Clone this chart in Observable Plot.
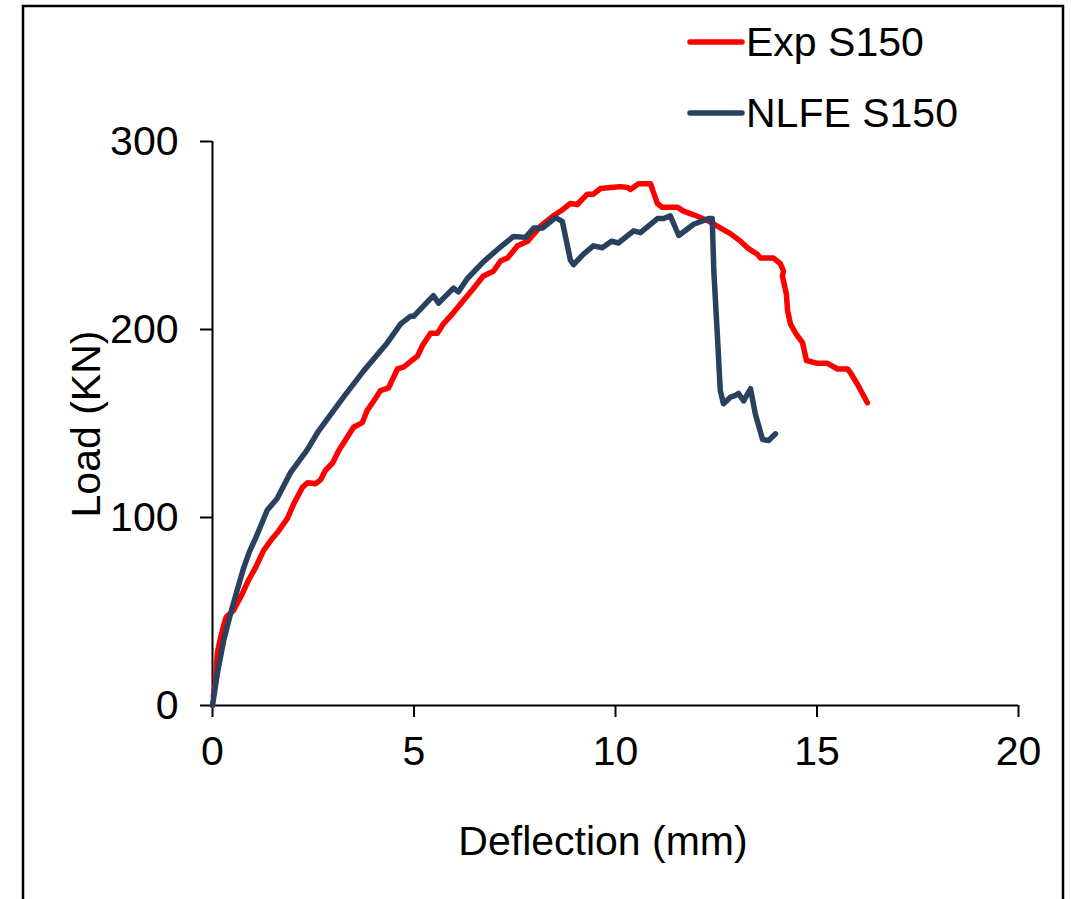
<!DOCTYPE html>
<html><head><meta charset="utf-8">
<script src="https://cdn.jsdelivr.net/npm/d3@7"></script>
<script src="https://cdn.jsdelivr.net/npm/@observablehq/plot@0.6"></script>
<style>body{margin:0;background:#fff;} #chart{width:1071px;height:899px;}</style>
</head><body><div id="chart"></div>
<script>
// Deflection (mm) / Load (KN)
const expDefl = [0.02,0.07,0.12,0.2,0.27,0.34,0.52,0.74,0.89,1.07,1.27,1.49,1.61,1.86,2.01,2.23,2.36,2.56,2.68,2.8,2.98,3.13,3.5,3.72,3.84,4.0,4.17,4.37,4.59,4.74,5.09,5.21,5.41,5.58,5.73,5.98,6.48,6.72,6.97,7.15,7.32,7.57,7.82,8.14,8.46,8.64,8.88,9.05,9.3,9.45,9.63,9.88,10.12,10.3,10.37,10.57,10.87,11.04,11.16,11.54,11.69,11.94,12.28,12.6,12.85,13.1,13.3,13.52,13.6,13.92,14.09,14.17,14.14,14.24,14.27,14.34,14.47,14.64,14.74,15.01,15.26,15.51,15.76,15.83,16.0,16.25];
const expLoad = [5,12,28,36,42,47,50.5,59.5,66.5,73.5,82.5,89,92,99.5,107,116,118.5,118,120,125,129,135.5,148,150.5,157,162,167.5,169,179,180,186,191.5,198,198,203,209,222,228.5,231,236.5,238,244.5,247,255,260.5,263,267,266.5,272,272,275,275.5,276,275.5,274.5,277.5,277.5,267,265,265,263,261,258,254,251,247,243,240,238,238,235,231,228.5,219,210,203,198,193,183.5,182,182,179,179,177,171,161];

const feDefl = [0,0.12,0.28,0.45,0.62,0.77,0.92,1.07,1.36,1.6,1.94,2.35,2.63,3.25,3.75,4.34,4.67,4.91,4.99,5.48,5.61,5.98,6.1,6.32,6.72,7.15,7.47,7.77,7.97,8.19,8.51,8.68,8.88,8.96,9.2,9.45,9.67,9.9,10.07,10.45,10.62,11.04,11.2,11.36,11.57,11.94,12.31,12.4,12.44,12.53,12.6,12.68,12.85,12.98,13.05,13.18,13.35,13.47,13.65,13.8,13.97];
const feLoad = [0,17,35,49,62,73,82,89,104,110,124,136,146,164,178,193,203,207,207,218,214,222,220,227,236,244,249.5,249,254,254,259.5,257.5,237,234.5,240,244.5,243.5,247,246,252.5,251.5,259,259,260.5,250,256,259,259,231,196,167.5,160.5,164,165,166,162,168.5,155,141.5,141,144.5];

const seriesNames = ["Exp S150", "NLFE S150"];
const seriesColors = ["#ff0000", "#27415f"];
const xTicks = [0,5,10,15,20];
const yTicks = [0,100,200,300];

const expData = expDefl.map((d,i)=>({d, l: expLoad[i]}));
const feData = feDefl.map((d,i)=>({d, l: feLoad[i]}));

const font = "'Liberation Sans', Arial, sans-serif";
const plot = Plot.plot({
  width: 1071, height: 899,
  marginLeft: 212, marginRight: 53, marginTop: 141, marginBottom: 194,
  style: {fontFamily: font, fontSize: "41px", color: "#000", background: "#fff"},
  x: {domain: [0,20]},
  y: {domain: [0,300]},
  marks: [
    Plot.axisX({ticks: xTicks, tickSize: 12, tickPadding: 18, label: null, stroke: "#000", strokeWidth: 2, fill: "#000"}),
    Plot.axisY({ticks: yTicks, tickSize: 12, tickPadding: 22, label: null, stroke: "#000", strokeWidth: 2, fill: "#000"}),
    Plot.ruleX([0], {y1: 0, y2: 300, stroke: "#000", strokeWidth: 2}),
    Plot.ruleY([0], {x1: 0, x2: 20, stroke: "#000", strokeWidth: 2}),
    Plot.line(expData, {x: "d", y: "l", stroke: seriesColors[0], strokeWidth: 5.5, strokeLinejoin: "round", strokeLinecap: "round"}),
    Plot.line(feData, {x: "d", y: "l", stroke: seriesColors[1], strokeWidth: 5.5, strokeLinejoin: "round", strokeLinecap: "round"})
  ]
});
document.getElementById("chart").appendChild(plot);

const svg = d3.select(plot);
// outer frame
svg.append("rect").attr("x", 23).attr("y", 6).attr("width", 1040).attr("height", 940)
  .attr("fill", "none").attr("stroke", "#000").attr("stroke-width", 2.5);
// axis titles
svg.append("text").attr("x", 603).attr("y", 855).attr("text-anchor", "middle")
  .attr("font-family", font).attr("font-size", 41).attr("fill", "#000").text("Deflection (mm)");
svg.append("text").attr("transform", "translate(100,424) rotate(-90)").attr("text-anchor", "middle")
  .attr("font-family", font).attr("font-size", 41).attr("fill", "#000").text("Load (KN)");
// legend
const legY = [42, 113];
seriesNames.forEach((name, i) => {
  svg.append("line").attr("x1", 690).attr("x2", 742).attr("y1", legY[i]).attr("y2", legY[i])
    .attr("stroke", seriesColors[i]).attr("stroke-width", 5.5).attr("stroke-linecap", "round");
  svg.append("text").attr("x", 746).attr("y", legY[i] + 14).attr("text-anchor", "start").attr("font-family", font)
    .attr("font-size", 41).attr("fill", "#000").text(name);
});
</script>
</body></html>
